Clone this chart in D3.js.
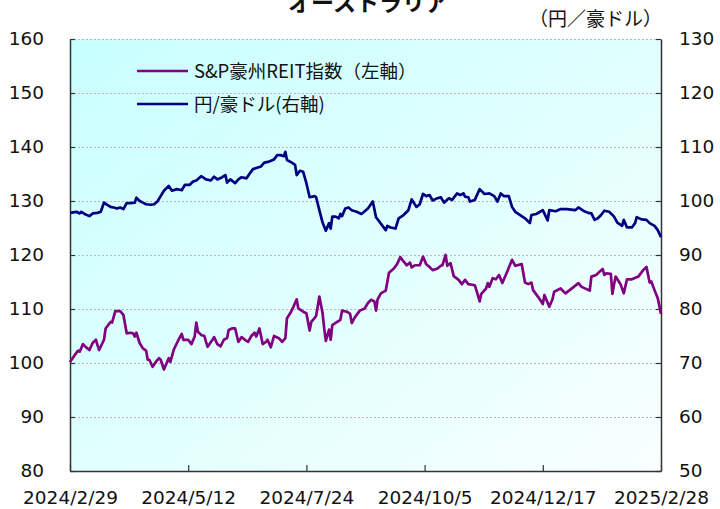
<!DOCTYPE html>
<html><head><meta charset="utf-8">
<script src="https://cdn.jsdelivr.net/npm/d3@7"></script>
<style>body{margin:0;background:#fff;} svg{display:block}</style>
</head><body>
<svg id="c" width="720" height="509"></svg>
<script>
const title = "オーストラリア";
const rightUnit = "（円／豪ドル）";
const seriesNames = ["S&P豪州REIT指数（左軸）", "円/豪ドル(右軸)"];
const xTickLabels = ["2024/2/29","2024/5/12","2024/7/24","2024/10/5","2024/12/17","2025/2/28"];
const leftTicks = [80,90,100,110,120,130,140,150,160];
const rightTicks = [50,60,70,80,90,100,110,120,130];

const fxDates = ["2024-02-29","2024-03-04","2024-03-06","2024-03-07","2024-03-09","2024-03-12","2024-03-14","2024-03-17","2024-03-19","2024-03-21","2024-03-23","2024-03-25","2024-03-27","2024-03-29","2024-03-31","2024-04-02","2024-04-04","2024-04-06","2024-04-09","2024-04-10","2024-04-12","2024-04-14","2024-04-16","2024-04-19","2024-04-21","2024-04-23","2024-04-25","2024-04-27","2024-04-30","2024-05-02","2024-05-05","2024-05-08","2024-05-10","2024-05-13","2024-05-15","2024-05-17","2024-05-20","2024-05-23","2024-05-26","2024-05-28","2024-05-30","2024-06-02","2024-06-04","2024-06-05","2024-06-07","2024-06-10","2024-06-12","2024-06-14","2024-06-17","2024-06-19","2024-06-21","2024-06-24","2024-06-26","2024-06-28","2024-07-01","2024-07-04","2024-07-06","2024-07-08","2024-07-10","2024-07-11","2024-07-12","2024-07-15","2024-07-17","2024-07-18","2024-07-20","2024-07-22","2024-07-24","2024-07-26","2024-07-29","2024-07-30","2024-08-01","2024-08-03","2024-08-05","2024-08-07","2024-08-08","2024-08-09","2024-08-11","2024-08-13","2024-08-14","2024-08-15","2024-08-17","2024-08-19","2024-08-21","2024-08-24","2024-08-27","2024-08-31","2024-09-03","2024-09-05","2024-09-07","2024-09-09","2024-09-11","2024-09-12","2024-09-14","2024-09-17","2024-09-19","2024-09-22","2024-09-25","2024-09-27","2024-09-30","2024-10-02","2024-10-04","2024-10-06","2024-10-08","2024-10-10","2024-10-12","2024-10-15","2024-10-17","2024-10-20","2024-10-22","2024-10-25","2024-10-27","2024-10-29","2024-10-30","2024-11-01","2024-11-02","2024-11-05","2024-11-08","2024-11-11","2024-11-14","2024-11-17","2024-11-19","2024-11-21","2024-11-23","2024-11-26","2024-11-28","2024-11-30","2024-12-03","2024-12-06","2024-12-09","2024-12-10","2024-12-13","2024-12-17","2024-12-20","2024-12-21","2024-12-25","2024-12-28","2025-01-01","2025-01-06","2025-01-08","2025-01-11","2025-01-14","2025-01-16","2025-01-18","2025-01-20","2025-01-22","2025-01-24","2025-01-27","2025-01-30","2025-02-01","2025-02-04","2025-02-05","2025-02-07","2025-02-10","2025-02-12","2025-02-13","2025-02-16","2025-02-19","2025-02-21","2025-02-24","2025-02-26","2025-02-28"];
const fxValues = [97.8,98.0,97.7,98.0,97.6,97.2,97.7,97.8,98.0,99.7,99.3,98.9,98.8,98.6,98.8,98.5,99.6,99.6,99.7,100.6,100.0,99.7,99.4,99.3,99.4,99.9,100.9,101.9,102.8,101.9,102.2,102.0,103.0,103.0,103.6,103.8,104.6,104.0,103.8,104.5,104.0,104.4,104.8,103.4,104.0,103.3,104.0,104.4,104.2,105.1,105.9,106.2,106.4,107.1,107.3,107.7,108.5,108.5,108.3,109.1,107.6,107.1,106.7,104.8,105.6,105.4,103.3,100.7,100.9,100.7,98.3,96.0,94.5,95.9,94.9,97.1,97.1,96.8,97.6,97.2,98.6,98.8,98.3,98.0,97.6,98.6,99.9,97.0,96.2,95.4,94.6,95.4,95.1,94.9,96.8,97.4,98.3,100.3,98.9,99.4,101.3,100.9,101.1,100.1,100.4,100.7,99.7,100.5,100.2,101.4,101.1,101.4,100.8,100.7,99.9,100.2,102.2,101.3,101.4,100.9,99.9,101.4,100.9,100.9,98.9,98.0,97.4,96.8,95.9,97.4,97.6,98.3,96.4,98.3,98.1,98.5,98.5,98.3,98.8,98.2,97.8,97.7,96.5,96.8,97.4,98.2,98.0,97.1,96.0,95.4,96.5,95.1,95.1,95.9,97.0,96.6,96.5,95.9,95.4,94.6,93.3];

const reitDates = ["2024-02-29","2024-03-03","2024-03-05","2024-03-06","2024-03-08","2024-03-10","2024-03-12","2024-03-14","2024-03-16","2024-03-17","2024-03-18","2024-03-21","2024-03-22","2024-03-25","2024-03-26","2024-03-28","2024-03-31","2024-04-02","2024-04-04","2024-04-06","2024-04-08","2024-04-09","2024-04-10","2024-04-12","2024-04-14","2024-04-16","2024-04-17","2024-04-18","2024-04-20","2024-04-22","2024-04-24","2024-04-25","2024-04-27","2024-04-29","2024-04-30","2024-05-01","2024-05-03","2024-05-06","2024-05-08","2024-05-09","2024-05-12","2024-05-14","2024-05-16","2024-05-17","2024-05-18","2024-05-20","2024-05-22","2024-05-23","2024-05-24","2024-05-27","2024-05-28","2024-05-30","2024-06-01","2024-06-03","2024-06-05","2024-06-06","2024-06-08","2024-06-10","2024-06-12","2024-06-14","2024-06-16","2024-06-18","2024-06-20","2024-06-22","2024-06-23","2024-06-25","2024-06-27","2024-06-29","2024-06-30","2024-07-02","2024-07-04","2024-07-07","2024-07-09","2024-07-11","2024-07-12","2024-07-14","2024-07-16","2024-07-18","2024-07-19","2024-07-22","2024-07-24","2024-07-26","2024-07-27","2024-07-29","2024-07-30","2024-08-01","2024-08-03","2024-08-04","2024-08-05","2024-08-07","2024-08-08","2024-08-09","2024-08-12","2024-08-14","2024-08-15","2024-08-18","2024-08-20","2024-08-21","2024-08-23","2024-08-26","2024-08-29","2024-08-31","2024-09-02","2024-09-04","2024-09-05","2024-09-06","2024-09-08","2024-09-11","2024-09-13","2024-09-16","2024-09-18","2024-09-20","2024-09-22","2024-09-24","2024-09-26","2024-09-27","2024-09-29","2024-10-02","2024-10-04","2024-10-06","2024-10-08","2024-10-10","2024-10-13","2024-10-15","2024-10-16","2024-10-18","2024-10-19","2024-10-21","2024-10-23","2024-10-26","2024-10-28","2024-10-30","2024-11-01","2024-11-05","2024-11-06","2024-11-08","2024-11-09","2024-11-12","2024-11-13","2024-11-14","2024-11-16","2024-11-18","2024-11-20","2024-11-22","2024-11-25","2024-11-28","2024-11-30","2024-12-04","2024-12-06","2024-12-08","2024-12-10","2024-12-11","2024-12-14","2024-12-17","2024-12-18","2024-12-21","2024-12-23","2024-12-24","2024-12-28","2024-12-31","2025-01-03","2025-01-08","2025-01-10","2025-01-15","2025-01-16","2025-01-19","2025-01-21","2025-01-23","2025-01-24","2025-01-25","2025-01-28","2025-01-29","2025-01-30","2025-01-31","2025-02-03","2025-02-05","2025-02-07","2025-02-10","2025-02-14","2025-02-17","2025-02-19","2025-02-21","2025-02-22","2025-02-24","2025-02-26","2025-02-28"];
const reitValues = [100.2,101.5,102.3,102.1,103.5,102.9,102.4,103.7,104.3,103.3,102.4,104.3,106.4,107.6,107.5,109.6,109.6,108.9,105.5,105.6,105.5,104.9,105.6,103.7,102.7,102.3,100.6,100.6,99.3,100.2,100.9,100.6,98.8,100.2,100.9,100.2,102.4,104.3,105.4,104.3,104.3,103.5,104.9,107.5,105.8,105.2,105.0,103.9,103.0,104.3,104.8,103.5,103.1,104.3,104.6,106.1,106.4,106.4,103.9,104.8,104.3,103.9,105.0,105.6,104.9,106.4,103.5,103.9,104.3,102.9,105.0,104.6,103.9,104.6,108.3,109.2,110.4,111.8,110.1,109.5,109.2,106.0,107.6,108.3,108.7,112.3,109.2,106.4,104.1,106.2,104.3,107.0,107.6,108.0,109.7,109.5,109.1,107.4,108.5,109.7,110.1,111.1,111.7,111.4,109.7,111.8,112.9,113.4,116.7,117.5,118.3,119.6,118.8,118.1,118.6,117.7,118.1,118.1,119.7,118.3,117.8,117.2,117.5,118.0,118.1,120.0,118.0,118.5,116.1,115.4,114.6,115.4,114.6,114.4,113.5,111.4,112.8,113.8,114.8,114.1,115.7,115.5,116.3,114.8,116.9,119.1,118.0,118.3,114.9,114.6,114.9,113.5,112.3,110.9,112.6,110.4,111.8,113.2,113.8,112.9,113.6,114.8,114.1,113.4,116.0,116.3,116.9,117.4,116.3,116.6,116.5,112.8,114.6,116.0,114.6,112.9,115.5,115.5,116.0,117.2,117.8,114.9,115.1,113.5,112.0,109.1];

const parseD = d3.utcParse("%Y-%m-%d");
const parseT = d3.utcParse("%Y/%m/%d");
const xTickDates = xTickLabels.map(parseT);

const m = {left:70, right:59, top:39, bottom:38};
const W = 720, H = 509;
const iw = W - m.left - m.right, ih = H - m.top - m.bottom;

const svg = d3.select("#c");
const defs = svg.append("defs");
const grad = defs.append("linearGradient").attr("id","bg")
  .attr("x1","0").attr("y1","0").attr("x2","1").attr("y2","1");
grad.append("stop").attr("offset","0").attr("stop-color","#c8ffff");
grad.append("stop").attr("offset","1").attr("stop-color","#f9ffff");

const x = d3.scaleUtc().domain([xTickDates[0], xTickDates[xTickDates.length-1]]).range([0, iw]);
const yL = d3.scaleLinear().domain([80,160]).range([ih,0]);
const yR = d3.scaleLinear().domain([50,130]).range([ih,0]);

const g = svg.append("g").attr("transform",`translate(${m.left},${m.top})`);
g.append("rect").attr("width",iw).attr("height",ih).attr("fill","url(#bg)");

// grid
const grid = g.append("g").call(d3.axisLeft(yL).tickValues(leftTicks.slice(1)).tickSize(-iw).tickFormat(""));
grid.select(".domain").remove();
grid.selectAll("line").attr("stroke","#b8b8b8").attr("stroke-width",1).attr("stroke-dasharray","2,2");

const tickFont = "'DejaVu Sans', Verdana, sans-serif";
// left axis
const ax = g.append("g").call(d3.axisLeft(yL).tickValues(leftTicks).tickSizeInner(-5).tickSizeOuter(0).tickPadding(26));
ax.select(".domain").attr("stroke","#333").attr("stroke-width",1.5);
ax.selectAll("line").attr("stroke","#333").attr("stroke-width",1.2);
ax.selectAll("text").attr("font-family",tickFont).attr("font-size","18.5px").attr("fill","#111");

// right axis
const ar = g.append("g").attr("transform",`translate(${iw},0)`)
  .call(d3.axisRight(yR).tickValues(rightTicks).tickSizeInner(-5).tickSizeOuter(0).tickPadding(18));
ar.select(".domain").attr("stroke","#333").attr("stroke-width",1.5);
ar.selectAll("line").attr("stroke","#333").attr("stroke-width",1.2);
ar.selectAll("text").attr("font-family",tickFont).attr("font-size","18.5px").attr("fill","#111");

// bottom axis
const ab = g.append("g").attr("transform",`translate(0,${ih})`)
  .call(d3.axisBottom(x).tickValues(xTickDates).tickSizeInner(-6).tickSizeOuter(0).tickPadding(20)
    .tickFormat((d,i)=>xTickLabels[i]));
ab.select(".domain").attr("stroke","#333").attr("stroke-width",1.5);
ab.selectAll("line").attr("stroke","#333").attr("stroke-width",1.2);
ab.selectAll("text").attr("font-family",tickFont).attr("font-size","18.5px").attr("fill","#111");

// lines
const fxData = fxDates.map((d,i)=>({d:parseD(d), v:fxValues[i]}));
const reitData = reitDates.map((d,i)=>({d:parseD(d), v:reitValues[i]}));
g.append("path").datum(reitData).attr("fill","none").attr("stroke","#800080").attr("stroke-width",2.7)
  .attr("stroke-linejoin","round").attr("d", d3.line().x(p=>x(p.d)).y(p=>yL(p.v)));
g.append("path").datum(fxData).attr("fill","none").attr("stroke","#000080").attr("stroke-width",2.7)
  .attr("stroke-linejoin","round").attr("d", d3.line().x(p=>x(p.d)).y(p=>yR(p.v)));

const jp = "'Noto Sans CJK JP', sans-serif";
// legend
const legColors = ["#800080","#000080"];
seriesNames.forEach((name,i)=>{
  const ly = 71 + i*33;
  svg.append("line").attr("x1",137).attr("x2",188).attr("y1",ly).attr("y2",ly)
    .attr("stroke",legColors[i]).attr("stroke-width",2.6);
  svg.append("text").attr("x",194).attr("y",ly).attr("dy","0.36em")
    .attr("font-family",jp).attr("font-size","18.5px").attr("fill","#111").text(name);
});

// title and unit
svg.append("text").attr("x",368).attr("y",11).attr("text-anchor","middle")
  .attr("font-family",jp).attr("font-weight","bold").attr("font-size","23px").attr("fill","#111").text(title);
svg.append("text").attr("x",662).attr("y",26).attr("text-anchor","end")
  .attr("font-family",jp).attr("font-size","19px").attr("fill","#111").text(rightUnit);
</script>
</body></html>
